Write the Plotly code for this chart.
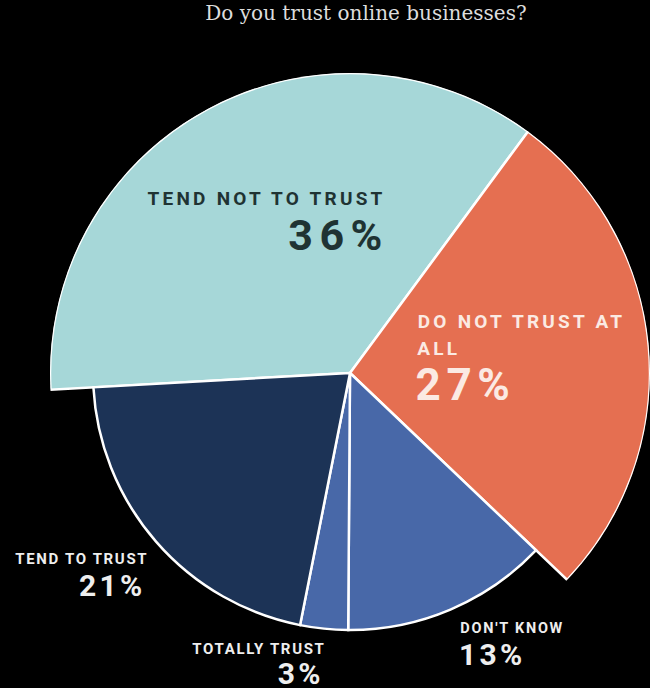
import json
import plotly.graph_objects as go

# Survey answers, clockwise from the left edge of the pie
categories = ["Tend not to trust", "Do not trust at all", "Don't know", "Totally trust", "Tend to trust"]
shares = [36, 27, 13, 3, 21]
groups = ["distrust", "distrust", "neutral", "trust", "trust"]
colors = ["#a6d7d8", "#e56f51", "#4868a8", "#4868a8", "#1c3356"]

title_text = "Do you trust online businesses?"
start_angle = 266.8  # degrees clockwise from twelve o'clock

W, H = 650, 688
R_OUT, R_IN = 300, 257
radius_by_group = {"distrust": R_OUT, "neutral": R_IN, "trust": R_IN}

# Convert shares to angular spans and centres
spans = [s / sum(shares) * 360 for s in shares]
thetas, acc = [], start_angle
for sp in spans:
    thetas.append((acc + sp / 2) % 360)
    acc += sp
radii = [radius_by_group[g] for g in groups]

fig = go.Figure(
    go.Barpolar(
        r=radii,
        theta=thetas,
        width=spans,
        marker=dict(color=colors, line=dict(color="white", width=2.5)),
        text=categories,
        hoverinfo="text",
    )
)

cx, cy = 350, 373
fig.update_layout(
    width=W,
    height=H,
    margin=dict(l=0, r=0, t=0, b=0),
    paper_bgcolor="black",
    plot_bgcolor="black",
    showlegend=False,
    polar=dict(
        domain=dict(x=[(cx - R_OUT) / W, (cx + R_OUT) / W],
                    y=[(H - cy - R_OUT) / H, (H - cy + R_OUT) / H]),
        bgcolor="black",
        bargap=0,
        angularaxis=dict(direction="clockwise", rotation=90, visible=False,
                         showgrid=False, showline=False, showticklabels=False, ticks=""),
        radialaxis=dict(range=[0, R_OUT], visible=False, showgrid=False,
                        showline=False, showticklabels=False, ticks=""),
    ),
    title=dict(text=title_text, x=366 / W, xanchor="center", y=1 - 13 / H, yanchor="middle",
               font=dict(family="DejaVu Serif", size=20, color="#dddddd")),
)

spacing = []  # letter spacing (em) per annotation, in creation order


def label(text, x, y, size, color, space):
    fig.add_annotation(
        text=text, x=x / W, y=1 - y / H, xref="paper", yref="paper",
        xanchor="center", yanchor="middle", showarrow=False,
        font=dict(family="Roboto", size=size, color=color, weight="bold"),
    )
    spacing.append(space)


dark = "#1f3333"
light = "#fbeae3"
white = "#eeeeee"

label("TEND NOT TO TRUST", 266, 198, 19, dark, 0.17)
label(f"{shares[0]}%", 338, 235, 43, dark, 0.15)
label("DO NOT TRUST AT", 521, 321, 19, light, 0.17)
label("ALL", 438, 348, 19, light, 0.17)
label(f"{shares[1]}%", 465, 385, 44, light, 0.13)
label("TEND TO TRUST", 82, 559, 15, white, 0.11)
label(f"{shares[4]}%", 112, 585, 30, white, 0.11)
label("TOTALLY TRUST", 259, 649, 15, white, 0.11)
label(f"{shares[3]}%", 300, 673, 30, white, 0.11)
label("DON'T KNOW", 512, 628, 14.5, white, 0.12)
label(f"{shares[2]}%", 493, 654, 30, white, 0.11)

letter_spacing_js = """
var gd = document.getElementById('{plot_id}');
var sp = %s;
gd.querySelectorAll('.annotation').forEach(function (g, i) {
  var idx = parseInt(g.getAttribute('data-index'));
  if (isNaN(idx)) { idx = i; }
  var t = g.querySelector('.annotation-text');
  if (t) { t.style.letterSpacing = sp[idx] + 'em'; }
});
""" % json.dumps(spacing)

fig.write_html("out.html", post_script=letter_spacing_js)
